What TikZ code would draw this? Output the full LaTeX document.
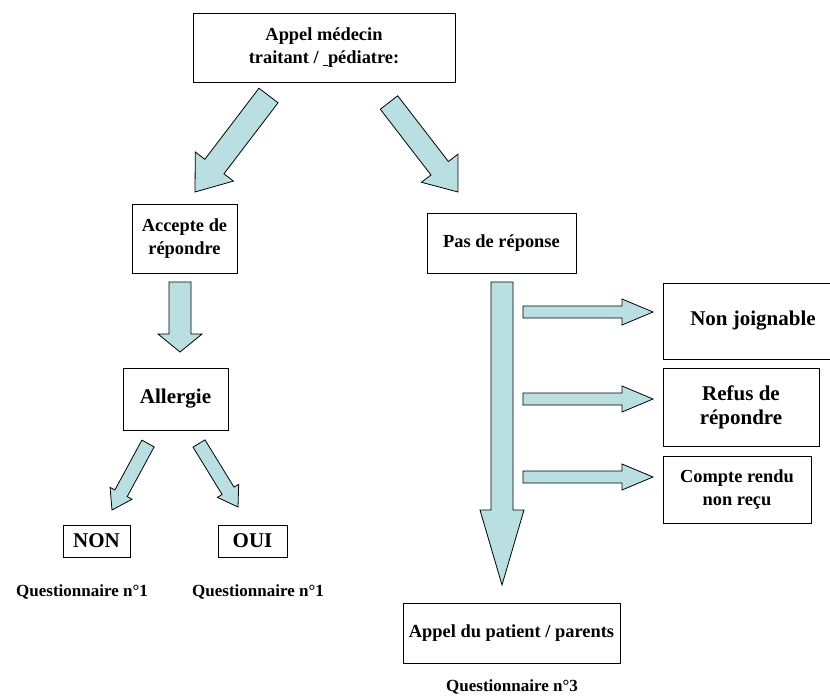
\documentclass[tikz,border=0pt]{standalone}
\usepackage{fontspec}
\setmainfont{Liberation Serif}
\usetikzlibrary{calc}
\definecolor{bleuclair}{RGB}{185,223,227}
\tikzset{
  boite/.style={draw, line width=1pt, align=center, inner sep=0pt, font=\bfseries\fontsize{18.4}{23}\selectfont},
  gros/.style={font=\bfseries\fontsize{21}{24}\selectfont},
  legende/.style={inner sep=0pt, font=\bfseries\fontsize{17}{20}\selectfont},
  bloc/.style={draw, fill=bleuclair, line width=.8pt, line join=miter},
}
% fleche pleine : queue, pointe, demi-corps, demi-tete, longueur de tete
\newcommand{\flechebloc}[5]{%
  \coordinate (fb) at ($(#2)!#5pt!(#1)$);
  \draw[bloc] ($(#1)!#3pt!90:(#2)$) -- ($(fb)!#3pt!90:(#2)$) -- ($(fb)!#4pt!90:(#2)$) -- (#2)
    -- ($(fb)!#4pt!-90:(#2)$) -- ($(fb)!#3pt!-90:(#2)$) -- ($(#1)!#3pt!-90:(#2)$) -- cycle;}
\begin{document}
\begin{tikzpicture}[x=1pt, y=-1pt]
  \useasboundingbox (0,0) rectangle (830,696);
  \clip (0,0) rectangle (830,696);
  % boites
  \node[boite, minimum width=262pt, minimum height=69pt] (medecin) at (324,47.5) {Appel médecin\\traitant / \underline{\ }pédiatre:};
  \node[boite, minimum width=105pt, minimum height=69pt] (accepte) at (184.5,238.5) {Accepte de\\répondre};
  \node[boite, gros, minimum width=105pt, minimum height=62pt] (allergie) at (175.5,399) {Allergie};
  \node[boite, gros, minimum width=67pt, minimum height=32pt] (non) at (96.5,541) {NON};
  \node[boite, gros, minimum width=69pt, minimum height=32pt] (oui) at (252.5,541) {OUI};
  \node[legende] (qnon) at (82,592) {Questionnaire n°1};
  \node[legende] (qoui) at (258,592) {Questionnaire n°1};
  \node[boite, minimum width=149pt, minimum height=60pt] (pas) at (501.5,243) {Pas de réponse};
  \node[boite, gros, minimum width=180pt, minimum height=76pt] (joignable) at (753,321) {Non joignable};
  \node[boite, gros, minimum width=156pt, minimum height=78pt] (refus) at (741,407) {Refus de\\répondre};
  \node[boite, minimum width=148pt, minimum height=67pt] (compte) at (737,489.5) {Compte rendu\\non reçu};
  \node[boite, minimum width=217pt, minimum height=60pt] (patient) at (511.5,633) {Appel du patient / parents};
  \node[legende] (qpatient) at (512,687) {Questionnaire n°3};
  % fleches
  \coordinate (q1) at (268.5,95.5); \coordinate (p1) at (195,192);
  \coordinate (q2) at (389,102.5); \coordinate (p2) at (458,192);
  \coordinate (q3) at (180,282);   \coordinate (p3) at (180,352);
  \coordinate (q4) at (148,443.5); \coordinate (p4) at (112,510);
  \coordinate (q5) at (199,443.5); \coordinate (p5) at (238,507);
  \coordinate (q6) at (502,282);   \coordinate (p6) at (502,585);
  \flechebloc{q1}{p1}{12}{24}{32}
  \flechebloc{q2}{p2}{11}{23}{30}
  \flechebloc{q3}{p3}{11}{22}{18}
  \flechebloc{q4}{p4}{7}{12.5}{19}
  \flechebloc{q5}{p5}{7}{12.5}{19}
  \flechebloc{q6}{p6}{11}{22}{75}
  \foreach \y/\n in {312/a, 399/b, 477/c}{
    \coordinate (q\n) at (523,\y); \coordinate (p\n) at (653,\y);
    \flechebloc{q\n}{p\n}{6}{13}{31}
  }
\end{tikzpicture}
\end{document}
